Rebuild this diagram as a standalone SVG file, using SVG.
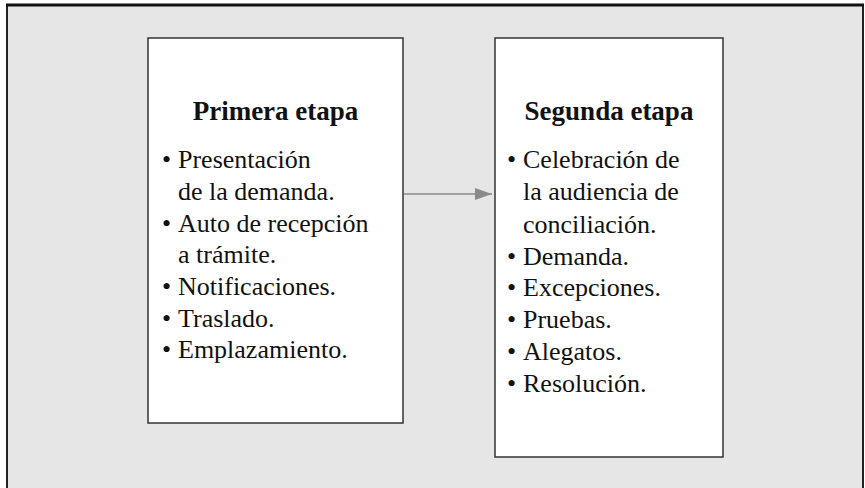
<svg xmlns="http://www.w3.org/2000/svg" width="865" height="488" viewBox="0 0 865 488">
<style>
.frame{fill:#e6e6e6;stroke:#222;stroke-width:2}
.box{fill:#fff;stroke:#333;stroke-width:1.5}
.t{font-family:"Liberation Serif","Times New Roman",serif;font-size:26px;fill:#111}
.h{font-weight:bold;text-anchor:middle;font-size:27px}
.conn{stroke:#8a8a8a;stroke-width:1.5;fill:none}
</style>
<defs>
<marker id="arr" markerUnits="userSpaceOnUse" markerWidth="18" markerHeight="12" refX="17" refY="6" orient="auto">
<path d="M0,0 L17,6 L0,12 Z" fill="#8a8a8a"/>
</marker>
</defs>
<rect class="frame" x="7" y="5" width="856" height="500"/>
<line x1="6" y1="5" x2="864" y2="5" stroke="#111" stroke-width="3"/>
<g id="primera">
<rect class="box" x="148" y="38" width="255" height="385"/>
<text class="t h" x="275.5" y="120">Primera etapa</text>
<text class="t" x="162" y="168">•</text><text class="t" x="178" y="168">Presentación</text>
<text class="t" x="178" y="199.5">de la demanda.</text>
<text class="t" x="162" y="231.5">•</text><text class="t" x="178" y="231.5">Auto de recepción</text>
<text class="t" x="178" y="263">a trámite.</text>
<text class="t" x="162" y="295">•</text><text class="t" x="178" y="295">Notificaciones.</text>
<text class="t" x="162" y="326.5">•</text><text class="t" x="178" y="326.5">Traslado.</text>
<text class="t" x="162" y="358">•</text><text class="t" x="178" y="358">Emplazamiento.</text>
</g>
<g id="segunda">
<rect class="box" x="495" y="38" width="228" height="419"/>
<text class="t h" x="609" y="120">Segunda etapa</text>
<text class="t" x="507" y="168">•</text><text class="t" x="523" y="168">Celebración de</text>
<text class="t" x="523" y="200">la audiencia de</text>
<text class="t" x="523" y="232.5">conciliación.</text>
<text class="t" x="507" y="264.5">•</text><text class="t" x="523" y="264.5">Demanda.</text>
<text class="t" x="507" y="296">•</text><text class="t" x="523" y="296">Excepciones.</text>
<text class="t" x="507" y="328">•</text><text class="t" x="523" y="328">Pruebas.</text>
<text class="t" x="507" y="360">•</text><text class="t" x="523" y="360">Alegatos.</text>
<text class="t" x="507" y="392">•</text><text class="t" x="523" y="392">Resolución.</text>
</g>
<g id="connectors">
<line class="conn" x1="404" y1="194" x2="492" y2="194" marker-end="url(#arr)"/>
</g>
</svg>
